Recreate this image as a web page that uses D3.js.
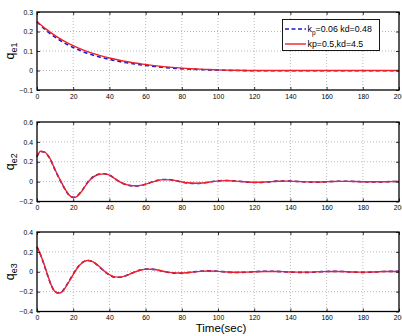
<!DOCTYPE html>
<html lang="en">
<head>
<meta charset="UTF-8">
<title>Error response</title>
<style>
  body { margin: 0; background: #fff; }
  svg { display: block; font-family: "Liberation Sans", Arial, sans-serif; }
</style>
</head>
<body>
<script src="https://d3js.org/d3.v7.min.js"></script>
<script>
// ---- data ----
const xTicks = [0, 20, 40, 60, 80, 100, 120, 140, 160, 180, 200];

const e1Time = [0, 5, 10, 15, 20, 25, 30, 35, 40, 45, 50, 55, 60, 65, 70, 75, 80, 85, 90, 95, 100, 110, 120, 200];
const e1Red  = [0.25, 0.212, 0.179, 0.151, 0.127, 0.107, 0.090, 0.076, 0.064, 0.054, 0.045, 0.037, 0.031, 0.025, 0.020, 0.016, 0.012, 0.009, 0.007, 0.005, 0.003, 0.001, 0.0, 0.0];
const e1Blue = [0.25, 0.206, 0.171, 0.142, 0.118, 0.098, 0.082, 0.068, 0.057, 0.047, 0.039, 0.032, 0.026, 0.021, 0.016, 0.012, 0.009, 0.007, 0.005, 0.003, 0.002, 0.0, -0.001, -0.001];

const e2Time = [0, 2, 4, 7, 10, 13, 16, 18, 20, 22, 25, 28, 31, 34, 37, 40, 43, 46, 50, 54, 58, 62, 66, 70, 74, 78, 83, 88, 93, 98, 104, 110, 116, 121, 127, 133, 138, 144, 150, 155, 161, 167, 172, 178, 184, 190, 195, 200];
const e2Red  = [0.25, 0.305, 0.30, 0.24, 0.12, 0.01, -0.09, -0.14, -0.16, -0.15, -0.09, -0.01, 0.045, 0.072, 0.078, 0.065, 0.03, -0.005, -0.033, -0.042, -0.035, -0.015, 0.008, 0.02, 0.018, 0.005, -0.012, -0.017, -0.01, 0.003, 0.01, 0.005, -0.004, -0.007, -0.003, 0.004, 0.005, 0.001, -0.003, -0.004, 0.0, 0.003, 0.003, 0.0, -0.002, -0.002, 0.0, 0.001];
const e2Blue = [0.25, 0.303, 0.297, 0.236, 0.116, 0.006, -0.093, -0.142, -0.158, -0.146, -0.086, -0.006, 0.049, 0.075, 0.080, 0.066, 0.030, -0.006, -0.035, -0.044, -0.036, -0.014, 0.010, 0.022, 0.019, 0.004, -0.014, -0.019, -0.011, 0.004, 0.012, 0.006, -0.005, -0.009, -0.004, 0.005, 0.007, 0.002, -0.004, -0.006, -0.001, 0.004, 0.004, 0.0, -0.003, -0.003, 0.0, 0.002];

const e3Time = [0, 2, 4, 6, 8, 10, 12, 14, 16, 19, 22, 25, 28, 31, 34, 37, 40, 43, 46, 49, 53, 57, 61, 65, 69, 73, 77, 81, 85, 90, 95, 100, 105, 110, 115, 120, 126, 132, 138, 144, 150, 156, 162, 168, 174, 180, 186, 192, 200];
const e3Red  = [0.25, 0.17, 0.07, -0.04, -0.14, -0.20, -0.215, -0.20, -0.15, -0.06, 0.03, 0.09, 0.113, 0.10, 0.06, 0.01, -0.03, -0.052, -0.054, -0.04, -0.01, 0.015, 0.026, 0.022, 0.008, -0.006, -0.013, -0.012, -0.005, 0.004, 0.007, 0.004, -0.002, -0.005, -0.004, 0.0, 0.003, 0.003, -0.001, -0.004, -0.004, 0.0, 0.003, 0.002, -0.002, -0.004, -0.002, 0.002, 0.003];
const e3Blue = [0.25, 0.168, 0.066, -0.044, -0.143, -0.202, -0.214, -0.197, -0.146, -0.055, 0.034, 0.093, 0.114, 0.099, 0.057, 0.006, -0.033, -0.054, -0.055, -0.040, -0.009, 0.017, 0.028, 0.023, 0.008, -0.007, -0.015, -0.013, -0.005, 0.005, 0.009, 0.005, -0.003, -0.007, -0.005, 0.0, 0.005, 0.004, -0.002, -0.006, -0.006, 0.0, 0.004, 0.003, -0.003, -0.006, -0.003, 0.003, 0.004];

const legendLabels = ["=0.06 kd=0.48", "kp=0.5,kd=4.5"];

// ---- layout ----
const W = 402, H = 336;
const left = 37, right = 399;

const panels = [
  { top: 12, bottom: 90, domain: [-0.1, 0.3], ticks: [-0.1, 0, 0.1, 0.2, 0.3], sub: "e1",
    time: e1Time, red: e1Red, blue: e1Blue, legend: true },
  { top: 122, bottom: 201.5, domain: [-0.2, 0.6], ticks: [-0.2, 0, 0.2, 0.4, 0.6], sub: "e2",
    time: e2Time, red: e2Red, blue: e2Blue },
  { top: 232, bottom: 311.5, domain: [-0.4, 0.4], ticks: [-0.4, -0.2, 0, 0.2, 0.4], sub: "e3",
    time: e3Time, red: e3Red, blue: e3Blue }
];

const svg = d3.select("body").append("svg")
  .attr("width", W)
  .attr("height", H);

const xScale = d3.scaleLinear().domain([0, 200]).range([left, right]);

const fmt = v => {
  if (v === 0) return "0";
  const s = d3.format("")(+v.toFixed(2));
  return s.replace("-", "\u2212");
};

panels.forEach(p => {
  const yScale = d3.scaleLinear().domain(p.domain).range([p.bottom, p.top]);
  const g = svg.append("g");

  // grid
  g.append("g").selectAll("line").data(xTicks.slice(1, -1)).join("line")
    .attr("x1", d => xScale(d)).attr("x2", d => xScale(d))
    .attr("y1", p.top).attr("y2", p.bottom)
    .attr("stroke", "#aaa").attr("stroke-width", 0.8).attr("stroke-dasharray", "1,2");
  g.append("g").selectAll("line").data(p.ticks.slice(1, -1)).join("line")
    .attr("x1", left).attr("x2", right)
    .attr("y1", d => yScale(d)).attr("y2", d => yScale(d))
    .attr("stroke", "#aaa").attr("stroke-width", 0.8).attr("stroke-dasharray", "1,2");

  // curves
  const line = d3.line()
    .x(d => xScale(d[0]))
    .y(d => yScale(d[1]))
    .curve(d3.curveMonotoneX);

  g.append("path")
    .datum(p.time.map((t, i) => [t, p.blue[i]]))
    .attr("d", line)
    .attr("fill", "none").attr("stroke", "#1a1acc").attr("stroke-width", 1.6)
    .attr("stroke-dasharray", "4,3");
  g.append("path")
    .datum(p.time.map((t, i) => [t, p.red[i]]))
    .attr("d", line)
    .attr("fill", "none").attr("stroke", "#f0202a").attr("stroke-width", 1.4);

  // axes, ticks inward on all sides
  const tl = 3;
  const xAxB = d3.axisBottom(xScale).tickValues(xTicks).tickSizeInner(-tl).tickSizeOuter(0).tickPadding(4);
  const xAxT = d3.axisTop(xScale).tickValues(xTicks).tickSizeInner(-tl).tickSizeOuter(0).tickFormat("");
  const yAxL = d3.axisLeft(yScale).tickValues(p.ticks).tickSizeInner(-tl).tickSizeOuter(0).tickPadding(4).tickFormat(fmt);
  const yAxR = d3.axisRight(yScale).tickValues(p.ticks).tickSizeInner(-tl).tickSizeOuter(0).tickFormat("");

  [
    g.append("g").attr("transform", `translate(0,${p.bottom})`).call(xAxB),
    g.append("g").attr("transform", `translate(0,${p.top})`).call(xAxT),
    g.append("g").attr("transform", `translate(${left},0)`).call(yAxL),
    g.append("g").attr("transform", `translate(${right},0)`).call(yAxR)
  ].forEach(a => {
    a.select(".domain").remove();
    a.selectAll(".tick line").attr("stroke", "#000").attr("stroke-width", 0.8);
    a.selectAll("text").attr("font-size", 6.8).attr("fill", "#000")
      .attr("font-family", "Liberation Sans, Arial, sans-serif");
  });

  g.append("rect")
    .attr("x", left).attr("y", p.top)
    .attr("width", right - left).attr("height", p.bottom - p.top)
    .attr("fill", "none").attr("stroke", "#000").attr("stroke-width", 1.3);

  // y label
  const yl = g.append("text")
    .attr("transform", `translate(14,${(p.top + p.bottom) / 2}) rotate(-90)`)
    .attr("text-anchor", "middle")
    .attr("font-size", 12.5);
  yl.append("tspan").text("q");
  yl.append("tspan").attr("font-size", 9).attr("dy", 3).text(p.sub);

  if (p.legend) {
    const lg = g.append("g");
    lg.append("rect")
      .attr("x", 282.5).attr("y", 19.5).attr("width", 97).attr("height", 31)
      .attr("fill", "#fff").attr("stroke", "#000").attr("stroke-width", 0.9);
    lg.append("line").attr("x1", 285).attr("x2", 306).attr("y1", 29).attr("y2", 29)
      .attr("stroke", "#1a1acc").attr("stroke-width", 1.6).attr("stroke-dasharray", "4,2.5");
    lg.append("line").attr("x1", 285).attr("x2", 306).attr("y1", 44).attr("y2", 44)
      .attr("stroke", "#f0202a").attr("stroke-width", 1.4);
    const t1 = lg.append("text").attr("x", 307.5).attr("y", 32).attr("font-size", 8.8);
    t1.append("tspan").text("k");
    t1.append("tspan").attr("font-size", 6.5).attr("dy", 3).text("p");
    t1.append("tspan").attr("dy", -3).text(legendLabels[0]);
    lg.append("text").attr("x", 307.5).attr("y", 47).attr("font-size", 8.8).text(legendLabels[1]);
  }
});

svg.append("text")
  .attr("x", 221).attr("y", 332)
  .attr("text-anchor", "middle")
  .attr("font-size", 11.5)
  .text("Time(sec)");
</script>
</body>
</html>
